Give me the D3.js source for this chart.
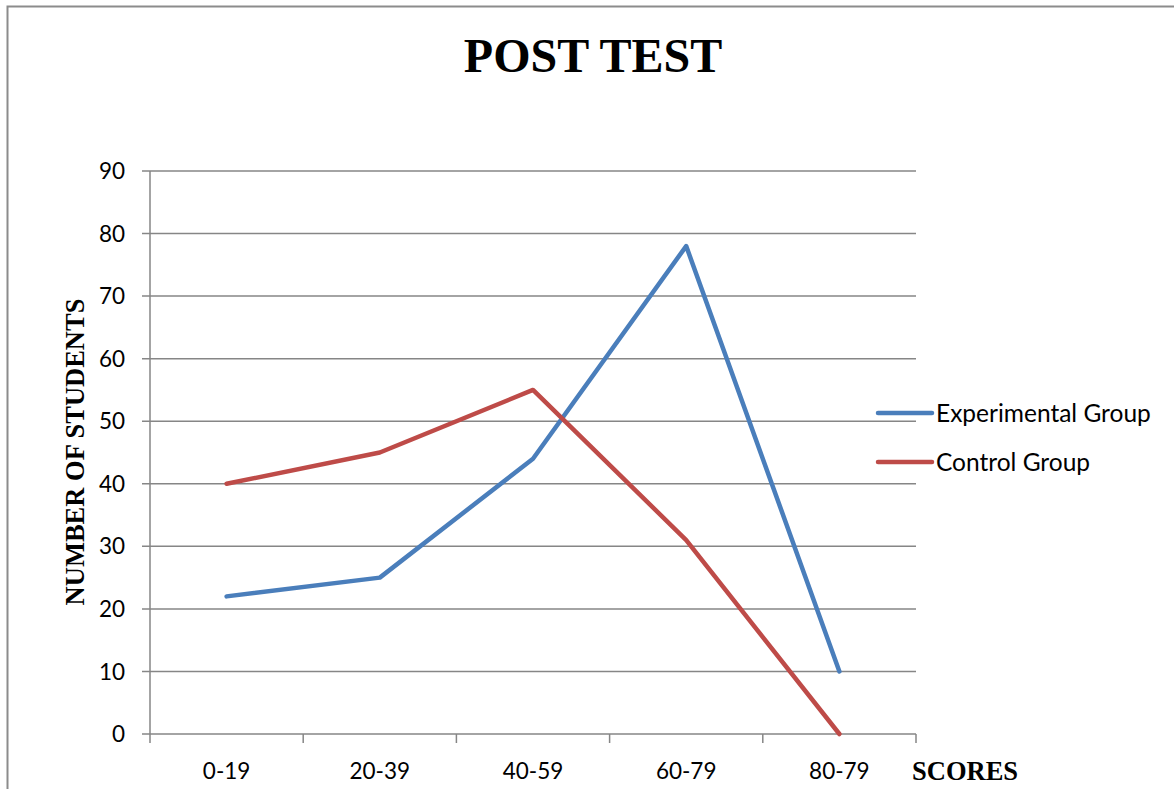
<!DOCTYPE html>
<html lang="en">
<head>
    <meta charset="UTF-8">
    <script src="https://cdn.jsdelivr.net/npm/d3@7"></script>
    <title>POST TEST</title>
    <style>
        body { margin: 0; background: #fff; }
    </style>
</head>
<body>
    <svg width="1174" height="789"></svg>

<script>
    // data
    var categories = ["0-19", "20-39", "40-59", "60-79", "80-79"];
    var experimental = [22, 25, 44, 78, 10];
    var control = [40, 45, 55, 31, 0];
    var yTicks = [0, 10, 20, 30, 40, 50, 60, 70, 80, 90];
    var seriesNames = ["Experimental Group", "Control Group"];
    var seriesColors = ["#4a7ebb", "#be4b48"];

    var width = 1174, height = 789;
    var svg = d3.select("svg");

    // outer frame (cut off at right / bottom)
    svg.append("rect")
        .attr("x", 7.5).attr("y", 6.5)
        .attr("width", 1200).attr("height", 900)
        .attr("fill", "none")
        .attr("stroke", "#8c8c8c")
        .attr("stroke-width", 2);

    var plotLeft = 150, plotRight = 916, plotTop = 171, plotBottom = 734;

    var x = d3.scaleBand().domain(categories).range([plotLeft, plotRight]);
    var y = d3.scaleLinear().domain([0, 90]).range([plotBottom, plotTop]);

    // gridlines
    svg.append("g")
        .selectAll("line")
        .data(yTicks)
        .enter()
        .append("line")
        .attr("x1", plotLeft - 8).attr("x2", plotRight)
        .attr("y1", function(d){ return y(d); })
        .attr("y2", function(d){ return y(d); })
        .attr("stroke", "#868686")
        .attr("stroke-width", 1.5);

    // y axis line
    svg.append("line")
        .attr("x1", plotLeft).attr("x2", plotLeft)
        .attr("y1", plotTop).attr("y2", plotBottom)
        .attr("stroke", "#868686")
        .attr("stroke-width", 1.5);

    // y tick labels
    svg.append("g")
        .selectAll("text")
        .data(yTicks)
        .enter()
        .append("text")
        .attr("x", plotLeft - 25)
        .attr("y", function(d){ return y(d); })
        .attr("dy", "0.36em")
        .attr("text-anchor", "end")
        .style("font-family", "Lato, 'Open Sans', sans-serif")
        .style("font-size", "22.5px")
        .style("fill", "#000")
        .text(function(d){ return d; });

    // x axis ticks sit between the categories
    var xEdges = categories.map(function(c){ return x(c); }).concat([plotRight]);
    svg.append("g")
        .selectAll("line")
        .data(xEdges)
        .enter()
        .append("line")
        .attr("x1", function(d){ return d; })
        .attr("x2", function(d){ return d; })
        .attr("y1", plotBottom).attr("y2", plotBottom + 9)
        .attr("stroke", "#868686")
        .attr("stroke-width", 1.5);

    svg.append("g")
        .selectAll("text")
        .data(categories)
        .enter()
        .append("text")
        .attr("x", function(d){ return x(d) + x.bandwidth() / 2; })
        .attr("y", 779)
        .attr("text-anchor", "middle")
        .style("font-family", "Lato, 'Open Sans', sans-serif")
        .style("font-size", "22.5px")
        .style("fill", "#000")
        .text(function(d){ return d; });

    // series lines
    var line = d3.line()
        .x(function(d, i){ return x(categories[i]) + x.bandwidth() / 2; })
        .y(function(d){ return y(d); });

    [experimental, control].forEach(function(s, i) {
        svg.append("path")
            .datum(s)
            .attr("d", line)
            .attr("fill", "none")
            .attr("stroke", seriesColors[i])
            .attr("stroke-width", 4.5)
            .attr("stroke-linecap", "round")
            .attr("stroke-linejoin", "round");
    });

    // legend
    var legend = svg.append("g")
        .selectAll("g")
        .data(seriesNames)
        .enter()
        .append("g")
        .attr("transform", function(d, i){ return "translate(878," + (413 + i * 49) + ")"; });

    legend.append("line")
        .attr("x1", 0).attr("x2", 54)
        .attr("stroke", function(d, i){ return seriesColors[i]; })
        .attr("stroke-width", 4.5)
        .attr("stroke-linecap", "round");

    legend.append("text")
        .attr("x", 58)
        .attr("dy", "0.36em")
        .style("font-family", "Lato, 'Open Sans', sans-serif")
        .style("font-size", "24.5px")
        .style("fill", "#000")
        .text(function(d){ return d; });

    // titles
    svg.append("text")
        .attr("x", 593).attr("y", 72)
        .attr("text-anchor", "middle")
        .style("font-family", "'Liberation Serif', 'Times New Roman', serif")
        .style("font-weight", "bold")
        .style("font-size", "48px")
        .text("POST TEST");

    svg.append("text")
        .attr("transform", "translate(84,452) rotate(-90)")
        .attr("text-anchor", "middle")
        .style("font-family", "'Liberation Serif', 'Times New Roman', serif")
        .style("font-weight", "bold")
        .style("font-size", "26.5px")
        .text("NUMBER OF STUDENTS");

    svg.append("text")
        .attr("x", 912).attr("y", 780)
        .style("font-family", "'Liberation Serif', 'Times New Roman', serif")
        .style("font-weight", "bold")
        .style("font-size", "26.5px")
        .text("SCORES");
</script>
</body>
</html>
